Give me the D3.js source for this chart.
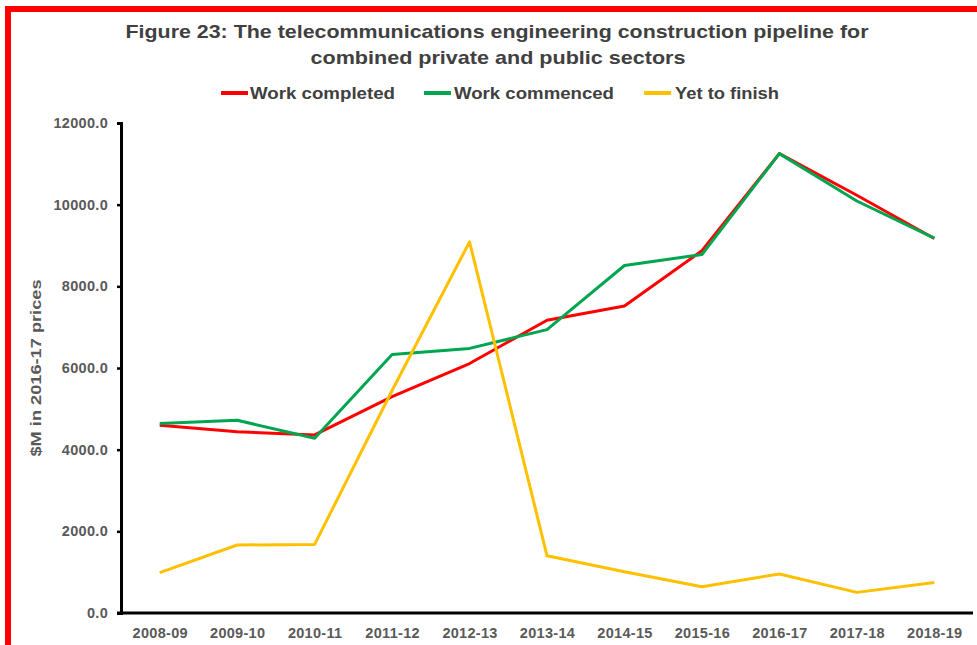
<!DOCTYPE html>
<html>
<head>
<meta charset="utf-8">
<script src="https://cdn.jsdelivr.net/npm/d3@7"></script>
<style>
    body { margin: 0; background: #fff; }
    text { font-family: "Liberation Sans", Arial, sans-serif; font-weight: bold; }
</style>
</head>
<body>
<div id="chart"></div>
<script>
// Financial years on the x axis
const years = ["2008-09", "2009-10", "2010-11", "2011-12", "2012-13", "2013-14",
    "2014-15", "2015-16", "2016-17", "2017-18", "2018-19"];

// Series values, $M in 2016-17 prices
const workCompleted = [4600, 4440, 4360, 5300, 6110, 7170, 7520, 8870, 11250, 10230, 9170];
const workCommenced = [4640, 4720, 4280, 6330, 6480, 6940, 8510, 8780, 11250, 10090, 9180];
const yetToFinish = [990, 1665, 1680, 5450, 9090, 1400, 1010, 645, 955, 505, 745];

const yTicks = [0, 2000, 4000, 6000, 8000, 10000, 12000];

const series = [
    { name: "Work completed", values: workCompleted, color: "#ff0000" },
    { name: "Work commenced", values: workCommenced, color: "#00a550" },
    { name: "Yet to finish", values: yetToFinish, color: "#ffc000" }
];

const W = 977, H = 645;
const plot = { left: 121, right: 973, top: 123, bottom: 613 };

const svg = d3.select("#chart").append("svg")
    .attr("width", W)
    .attr("height", H);

// red frame round the figure (runs off the right and bottom edges)
svg.append("rect")
    .attr("x", 8).attr("y", 9)
    .attr("width", W + 20).attr("height", H + 20)
    .attr("fill", "none")
    .attr("stroke", "#ff0000")
    .attr("stroke-width", 6);

// Title
const title = svg.append("g").attr("fill", "#404040").attr("text-anchor", "middle");
title.append("text")
    .attr("x", 497).attr("y", 38)
    .attr("font-size", 19)
    .attr("textLength", 743).attr("lengthAdjust", "spacingAndGlyphs")
    .text("Figure 23: The telecommunications engineering construction pipeline for");
title.append("text")
    .attr("x", 498).attr("y", 64)
    .attr("font-size", 19)
    .attr("textLength", 375).attr("lengthAdjust", "spacingAndGlyphs")
    .text("combined private and public sectors");

// Scales
const x = d3.scalePoint()
    .domain(years)
    .range([plot.left, plot.right])
    .padding(0.5);

const y = d3.scaleLinear()
    .domain([0, 12000])
    .range([plot.bottom, plot.top]);

// Y axis
const yAxis = svg.append("g")
    .attr("transform", `translate(${plot.left}, 0)`)
    .call(d3.axisLeft(y).tickValues(yTicks).tickFormat(d3.format(".1f")).tickSize(4).tickPadding(9));
yAxis.select(".domain").attr("stroke", "#000").attr("stroke-width", 3);
yAxis.selectAll(".tick line").attr("stroke", "#000").attr("stroke-width", 2.5);
yAxis.selectAll(".tick text")
    .attr("fill", "#595959")
    .attr("font-size", 14.5)
    .attr("letter-spacing", 0.3)
    .attr("font-family", "Liberation Sans, Arial, sans-serif");

// X axis
const xAxis = svg.append("g")
    .attr("transform", `translate(0, ${plot.bottom})`)
    .call(d3.axisBottom(x).tickSize(0).tickPadding(15));
xAxis.select(".domain").attr("stroke", "#000").attr("stroke-width", 3)
    .attr("d", `M${plot.left - 4},0H${plot.right}`);
xAxis.selectAll(".tick text")
    .attr("fill", "#595959")
    .attr("font-size", 14.5)
    .attr("letter-spacing", 0.3)
    .attr("font-family", "Liberation Sans, Arial, sans-serif");

// Y axis label
svg.append("text")
    .attr("transform", "translate(41, 368) rotate(-90)")
    .attr("text-anchor", "middle")
    .attr("fill", "#595959")
    .attr("font-size", 15.5)
    .attr("textLength", 177).attr("lengthAdjust", "spacingAndGlyphs")
    .text("$M in 2016-17 prices");

// Lines
const line = d3.line()
    .x((d, i) => x(years[i]))
    .y(d => y(d));

svg.selectAll(".series")
    .data(series)
    .join("path")
    .attr("class", "series")
    .attr("d", d => line(d.values))
    .attr("fill", "none")
    .attr("stroke", d => d.color)
    .attr("stroke-width", 3)
    .attr("stroke-linejoin", "round");

// Legend
const legendPos = [
    { lx: 221, tx: 250, len: 145 },
    { lx: 424, tx: 454, len: 160 },
    { lx: 644, tx: 675, len: 104 }
];
const legend = svg.append("g");
series.forEach((s, i) => {
    const p = legendPos[i];
    legend.append("line")
        .attr("x1", p.lx).attr("x2", p.lx + 27)
        .attr("y1", 93).attr("y2", 93)
        .attr("stroke", s.color)
        .attr("stroke-width", 4);
    legend.append("text")
        .attr("x", p.tx).attr("y", 99)
        .attr("fill", "#404040")
        .attr("font-size", 17)
        .attr("textLength", p.len).attr("lengthAdjust", "spacingAndGlyphs")
        .text(s.name);
});
</script>
</body>
</html>
